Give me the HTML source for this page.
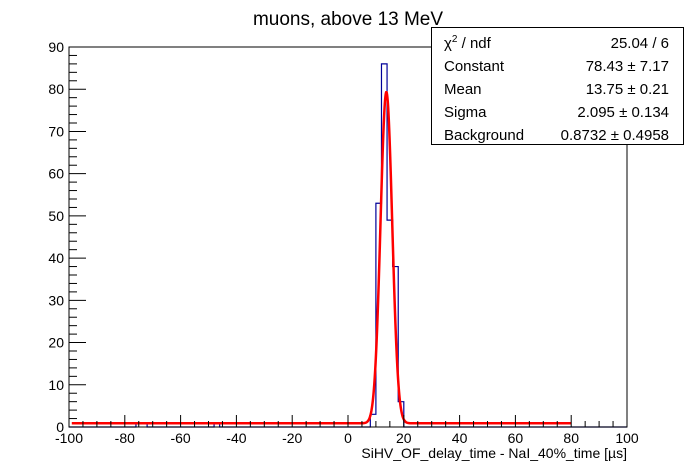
<!DOCTYPE html>
<html><head><meta charset="utf-8"><style>
body{margin:0;background:#fff}
svg{display:block;font-family:"Liberation Sans",Arial,sans-serif}
</style></head><body>
<svg id="c" width="696" height="474" viewBox="0 0 696 474" xmlns="http://www.w3.org/2000/svg">
<rect width="696" height="474" fill="#fff"/>
<text x="348" y="25" font-size="19" text-anchor="middle">muons, above 13 MeV</text>
<g id="plot"></g>
<rect x="69" y="47" width="558" height="380" fill="none" stroke="#000" stroke-width="1"/>
<text x="627" y="458" font-size="14" text-anchor="end">SiHV_OF_delay_time - NaI_40%_time [µs]</text>
<g>
<rect x="431.5" y="27.5" width="252" height="117" fill="#fff" stroke="#000"/>
<g font-size="15">
<text x="444" y="48">χ<tspan font-size="10" dy="-6">2</tspan><tspan dy="6"> / ndf</tspan></text><text x="669" y="48" text-anchor="end">25.04 / 6</text>
<text x="444" y="71">Constant</text><text x="669" y="71" text-anchor="end">78.43 ± 7.17</text>
<text x="444" y="94">Mean</text><text x="669" y="94" text-anchor="end">13.75 ± 0.21</text>
<text x="444" y="117">Sigma</text><text x="669" y="117" text-anchor="end">2.095 ± 0.134</text>
<text x="444" y="140">Background</text><text x="669" y="140" text-anchor="end">0.8732 ± 0.4958</text>
</g></g>
</svg>
<script>
const binEdgesLow = [-76, -74, -48, 8, 10, 12, 14, 16, 18];
const binCounts = [1, 1, 1, 3, 53, 86, 49, 38, 6];
const binWidth = 2;
const fitConstant = 78.43, fitMean = 13.75, fitSigma = 2.095, fitBackground = 0.8732;
const fitRange = [-99, 80];
const xTicks = [-100, -80, -60, -40, -20, 0, 20, 40, 60, 80, 100];
const yTicks = [0, 10, 20, 30, 40, 50, 60, 70, 80, 90];

const X0=69,X1=627,Y0=427,Y1=47;
const sx=v=>X0+(v+100)/200*(X1-X0);
const sy=v=>Y0-v/90*(Y0-Y1);
const g=document.getElementById('plot');
const NS='http://www.w3.org/2000/svg';
function mk(t,a){const e=document.createElementNS(NS,t);for(const k in a)e.setAttribute(k,a[k]);g.appendChild(e);return e;}

// histogram step path
let counts={};binEdgesLow.forEach((b,i)=>counts[b]=binCounts[i]);
let d=`M${sx(-100)},${sy(0)}`;
for(let b=-100;b<100;b+=binWidth){const c=counts[b]||0;d+=` L${sx(b)},${sy(c)} L${sx(b+binWidth)},${sy(c)}`;}
const h=mk('path',{d:d,fill:'none',stroke:'#000099','stroke-width':1.2});



// fit curve
let f='';
for(let x=fitRange[0];x<=fitRange[1];x+=0.1){const y=fitConstant*Math.exp(-0.5*((x-fitMean)/fitSigma)**2)+fitBackground;f+=(f?' L':'M')+sx(x).toFixed(2)+','+sy(y).toFixed(2);}
const fc=mk('path',{d:f,fill:'none',stroke:'#ff0000','stroke-width':2.5});



// x ticks
for(let v=-100;v<=100;v+=5){const major=v%20===0;const t=mk('line',{x1:sx(v),x2:sx(v),y1:Y0,y2:Y0-(major?12:6),stroke:'#000'});

}
xTicks.forEach(v=>{const t=mk('text',{x:sx(v),y:443,'font-size':14,'text-anchor':'middle'});t.textContent=v;

});
// y ticks
for(let v=0;v<=90;v+=2){const major=v%10===0;const t=mk('line',{x1:X0,x2:X0+(major?17:8),y1:sy(v),y2:sy(v),stroke:'#000'});

}
yTicks.forEach(v=>{const t=mk('text',{x:64,y:sy(v)+5,'font-size':14,'text-anchor':'end'});t.textContent=v;

});
</script>
</body></html>
